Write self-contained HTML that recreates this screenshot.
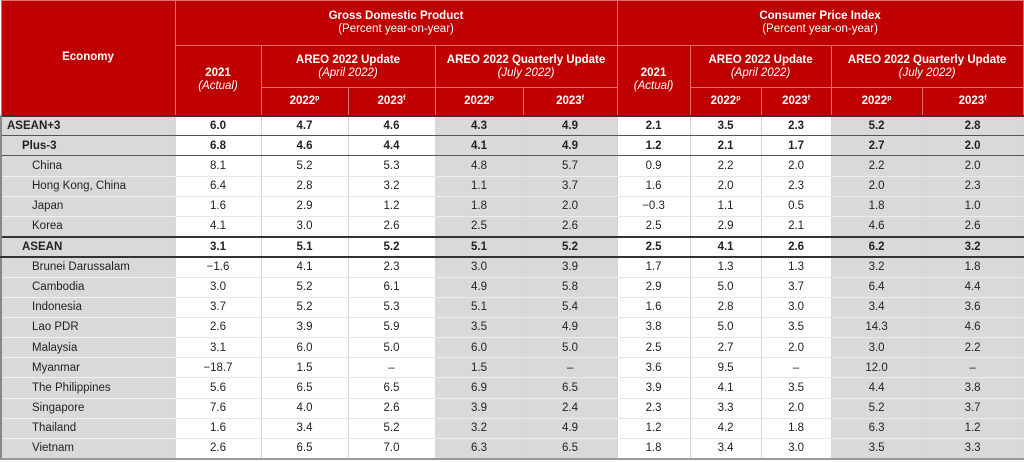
<!DOCTYPE html>
<html><head><meta charset="utf-8"><style>
html,body{margin:0;padding:0;background:#fff;width:1024px;height:462px;overflow:hidden}
table{position:absolute;left:0;top:0;border-collapse:collapse;table-layout:fixed;width:1022px;font-family:"Liberation Sans",Arial,sans-serif;font-size:11.5px;color:#222}
td,th{padding:0;text-align:center;white-space:nowrap;overflow:hidden}
thead th{background:#c00000;color:#fff;font-weight:bold;border:1px solid #e07070;font-size:11.5px;line-height:13px}
thead th i{font-weight:normal}
thead .n{font-weight:normal}
tbody tr{height:20.2px}
tbody td{border-left:1px solid #d6d6d6;border-right:1px solid #d6d6d6;border-bottom:1px solid #e6e6e6;background:#fff}
tbody td.e{background:#d9d9d9;text-align:left;padding-left:30px;border-bottom:1px solid #f0f0f0}
tbody td.g{background:#d9d9d9;border-bottom:1px solid #ececec}
tbody tr.b td{font-weight:bold}
tbody tr.b td.e{padding-left:20px}
tbody tr.top td.e{padding-left:5px}
tbody tr.top td{border-top:2px solid #333;border-bottom:1px solid #555}
tbody tr.p3 td{border-bottom:1px solid #555}
tbody tr.as td{border-top:2px solid #333;border-bottom:2px solid #333}
tbody tr.last td{border-bottom:2px solid #999}
tbody td:first-child{border-left:2px solid #888}
sup{font-size:7px;vertical-align:top;line-height:7px}
</style></head><body>
<table>
<colgroup><col style="width:174px"><col style="width:86px"><col style="width:87px"><col style="width:87px"><col style="width:88px"><col style="width:94px"><col style="width:73px"><col style="width:71px"><col style="width:70px"><col style="width:91px"><col style="width:101px"></colgroup>
<thead>
<tr style="height:45px"><th rowspan="3" style="vertical-align:middle">Economy</th><th colspan="5">Gross Domestic Product<br><span class="n">(Percent year-on-year)</span></th><th colspan="5">Consumer Price Index<br><span class="n">(Percent year-on-year)</span></th></tr>
<tr style="height:42px"><th rowspan="2">2021<br><i>(Actual)</i></th><th colspan="2">AREO 2022 Update<br><i>(April 2022)</i></th><th colspan="2">AREO 2022 Quarterly Update<br><i>(July 2022)</i></th><th rowspan="2">2021<br><i>(Actual)</i></th><th colspan="2">AREO 2022 Update<br><i>(April 2022)</i></th><th colspan="2">AREO 2022 Quarterly Update<br><i>(July 2022)</i></th></tr>
<tr style="height:28px"><th>2022<sup>p</sup></th><th>2023<sup>f</sup></th><th>2022<sup>p</sup></th><th>2023<sup>f</sup></th><th>2022<sup>p</sup></th><th>2023<sup>f</sup></th><th>2022<sup>p</sup></th><th>2023<sup>f</sup></th></tr>
</thead>
<tbody>
<tr class="b top"><td class="e">ASEAN+3</td><td>6.0</td><td>4.7</td><td>4.6</td><td class="g">4.3</td><td class="g">4.9</td><td>2.1</td><td>3.5</td><td>2.3</td><td class="g">5.2</td><td class="g">2.8</td></tr>
<tr class="b p3"><td class="e">Plus-3</td><td>6.8</td><td>4.6</td><td>4.4</td><td class="g">4.1</td><td class="g">4.9</td><td>1.2</td><td>2.1</td><td>1.7</td><td class="g">2.7</td><td class="g">2.0</td></tr>
<tr><td class="e">China</td><td>8.1</td><td>5.2</td><td>5.3</td><td class="g">4.8</td><td class="g">5.7</td><td>0.9</td><td>2.2</td><td>2.0</td><td class="g">2.2</td><td class="g">2.0</td></tr>
<tr><td class="e">Hong Kong, China</td><td>6.4</td><td>2.8</td><td>3.2</td><td class="g">1.1</td><td class="g">3.7</td><td>1.6</td><td>2.0</td><td>2.3</td><td class="g">2.0</td><td class="g">2.3</td></tr>
<tr><td class="e">Japan</td><td>1.6</td><td>2.9</td><td>1.2</td><td class="g">1.8</td><td class="g">2.0</td><td>&minus;0.3</td><td>1.1</td><td>0.5</td><td class="g">1.8</td><td class="g">1.0</td></tr>
<tr><td class="e">Korea</td><td>4.1</td><td>3.0</td><td>2.6</td><td class="g">2.5</td><td class="g">2.6</td><td>2.5</td><td>2.9</td><td>2.1</td><td class="g">4.6</td><td class="g">2.6</td></tr>
<tr class="b as"><td class="e">ASEAN</td><td>3.1</td><td>5.1</td><td>5.2</td><td class="g">5.1</td><td class="g">5.2</td><td>2.5</td><td>4.1</td><td>2.6</td><td class="g">6.2</td><td class="g">3.2</td></tr>
<tr><td class="e">Brunei Darussalam</td><td>&minus;1.6</td><td>4.1</td><td>2.3</td><td class="g">3.0</td><td class="g">3.9</td><td>1.7</td><td>1.3</td><td>1.3</td><td class="g">3.2</td><td class="g">1.8</td></tr>
<tr><td class="e">Cambodia</td><td>3.0</td><td>5.2</td><td>6.1</td><td class="g">4.9</td><td class="g">5.8</td><td>2.9</td><td>5.0</td><td>3.7</td><td class="g">6.4</td><td class="g">4.4</td></tr>
<tr><td class="e">Indonesia</td><td>3.7</td><td>5.2</td><td>5.3</td><td class="g">5.1</td><td class="g">5.4</td><td>1.6</td><td>2.8</td><td>3.0</td><td class="g">3.4</td><td class="g">3.6</td></tr>
<tr><td class="e">Lao PDR</td><td>2.6</td><td>3.9</td><td>5.9</td><td class="g">3.5</td><td class="g">4.9</td><td>3.8</td><td>5.0</td><td>3.5</td><td class="g">14.3</td><td class="g">4.6</td></tr>
<tr><td class="e">Malaysia</td><td>3.1</td><td>6.0</td><td>5.0</td><td class="g">6.0</td><td class="g">5.0</td><td>2.5</td><td>2.7</td><td>2.0</td><td class="g">3.0</td><td class="g">2.2</td></tr>
<tr><td class="e">Myanmar</td><td>&minus;18.7</td><td>1.5</td><td>&ndash;</td><td class="g">1.5</td><td class="g">&ndash;</td><td>3.6</td><td>9.5</td><td>&ndash;</td><td class="g">12.0</td><td class="g">&ndash;</td></tr>
<tr><td class="e">The Philippines</td><td>5.6</td><td>6.5</td><td>6.5</td><td class="g">6.9</td><td class="g">6.5</td><td>3.9</td><td>4.1</td><td>3.5</td><td class="g">4.4</td><td class="g">3.8</td></tr>
<tr><td class="e">Singapore</td><td>7.6</td><td>4.0</td><td>2.6</td><td class="g">3.9</td><td class="g">2.4</td><td>2.3</td><td>3.3</td><td>2.0</td><td class="g">5.2</td><td class="g">3.7</td></tr>
<tr><td class="e">Thailand</td><td>1.6</td><td>3.4</td><td>5.2</td><td class="g">3.2</td><td class="g">4.9</td><td>1.2</td><td>4.2</td><td>1.8</td><td class="g">6.3</td><td class="g">1.2</td></tr>
<tr class="last"><td class="e">Vietnam</td><td>2.6</td><td>6.5</td><td>7.0</td><td class="g">6.3</td><td class="g">6.5</td><td>1.8</td><td>3.4</td><td>3.0</td><td class="g">3.5</td><td class="g">3.3</td></tr>
</tbody>
</table>
</body></html>
